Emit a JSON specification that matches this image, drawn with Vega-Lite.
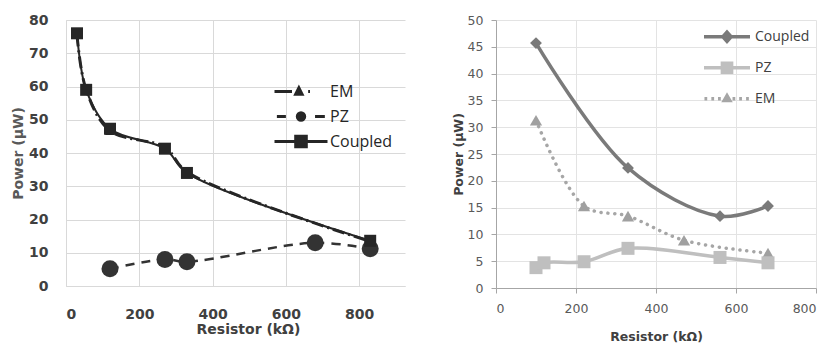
{
  "$schema": "https://vega.github.io/schema/vega-lite/v6.json",
  "padding": {"left": 11, "top": 13, "right": 0, "bottom": 0},
  "background": "white",
  "spacing": 47,
  "config": {"view": {"stroke": null}},
  "resolve": {"scale": {"fill": "independent", "stroke": "independent", "shape": "independent", "x": "independent", "y": "independent"}, "legend": {"fill": "independent", "stroke": "independent", "shape": "independent"}},
  "hconcat": [
    {
      "width": 339,
      "height": 266,
      "data": {"values": [
        {"series": "EM", "r": 30, "p": 75.6},
        {"series": "EM", "r": 55, "p": 59},
        {"series": "EM", "r": 120, "p": 46.7},
        {"series": "EM", "r": 270, "p": 41.7},
        {"series": "EM", "r": 330, "p": 34.3},
        {"series": "EM", "r": 830, "p": 13.4},
        {"series": "PZ", "r": 120, "p": 5.2},
        {"series": "PZ", "r": 270, "p": 8.0},
        {"series": "PZ", "r": 330, "p": 7.3},
        {"series": "PZ", "r": 680, "p": 13},
        {"series": "PZ", "r": 830, "p": 11.2},
        {"series": "Coupled", "r": 30, "p": 76},
        {"series": "Coupled", "r": 55, "p": 59},
        {"series": "Coupled", "r": 120, "p": 47.3},
        {"series": "Coupled", "r": 270, "p": 41.3},
        {"series": "Coupled", "r": 330, "p": 34},
        {"series": "Coupled", "r": 830, "p": 13.6}
      ]},
      "encoding": {
        "x": {"field": "r", "type": "quantitative", "scale": {"domain": [0, 925], "nice": false},
          "axis": {"values": [0, 200, 400, 600, 800], "grid": true, "gridColor": "#d9d9d9", "domainColor": "#d9d9d9", "ticks": false, "tickSize": 0,
            "labelFont": "DejaVu Sans", "labelFontWeight": "bold", "labelFontSize": 14, "labelColor": "#404040", "labelPadding": 21,
            "title": "Resistor (kΩ)", "titleFont": "DejaVu Sans", "titleFontWeight": "bold", "titleFontSize": 14, "titleColor": "#404040", "titlePadding": 1, "titleX": 182}},
        "y": {"field": "p", "type": "quantitative", "scale": {"domain": [0, 80], "nice": false},
          "axis": {"values": [0, 10, 20, 30, 40, 50, 60, 70, 80], "grid": true, "gridColor": "#d9d9d9", "domainColor": "#d9d9d9", "ticks": false, "tickSize": 0,
            "labelFont": "DejaVu Sans", "labelFontWeight": "bold", "labelFontSize": 14, "labelColor": "#404040", "labelPadding": 18,
            "title": "Power (μW)", "titleFont": "DejaVu Sans", "titleFontWeight": "bold", "titleFontSize": 14, "titleColor": "#595959", "titlePadding": 3}}
      },
      "layer": [
        {"transform": [{"filter": "datum.series === 'EM'"}],
         "mark": {"type": "line", "interpolate": "catmull-rom", "color": "#262626", "strokeWidth": 3, "strokeDash": [12, 4, 2, 4]}},
        {"transform": [{"filter": "datum.series === 'PZ'"}],
         "mark": {"type": "line", "interpolate": "catmull-rom", "color": "#333333", "strokeWidth": 2.5, "strokeDash": [9, 7]}},
        {"transform": [{"filter": "datum.series === 'Coupled'"}],
         "mark": {"type": "line", "interpolate": "catmull-rom", "color": "#262626", "strokeWidth": 2}},
        {"transform": [{"filter": "datum.series === 'EM'"}],
         "mark": {"type": "point", "filled": true, "opacity": 1, "shape": "triangle-up", "size": 100, "color": "#262626"}},
        {"transform": [{"filter": "datum.series === 'PZ'"}],
         "mark": {"type": "point", "filled": true, "opacity": 1, "shape": "circle", "size": 289, "color": "#333333"}},
        {"transform": [{"filter": "datum.series === 'Coupled'"}],
         "mark": {"type": "point", "filled": true, "opacity": 1, "shape": "square", "size": 144, "color": "#262626"}},
        {"transform": [{"filter": "false"}],
         "mark": {"type": "point", "filled": true, "opacity": 1, "size": 2809, "strokeWidth": 3},
         "encoding": {
           "fill": {"field": "series", "type": "nominal", "scale": {"domain": ["EM", "PZ", "Coupled"], "range": ["#262626", "#262626", "#262626"]},
             "legend": {"orient": "none", "legendX": 207, "legendY": 59, "direction": "vertical", "title": null,
               "symbolSize": 2809, "symbolStrokeWidth": 3, "clipHeight": 25, "rowPadding": 0, "padding": 0, "labelOffset": 1,
               "labelFont": "Open Sans", "labelFontSize": 16, "labelColor": "#262626"}},
           "stroke": {"field": "series", "type": "nominal", "scale": {"domain": ["EM", "PZ", "Coupled"], "range": ["#262626", "#262626", "#262626"]}},
           "shape": {"field": "series", "type": "nominal", "scale": {"domain": ["EM", "PZ", "Coupled"], "range": [
             "M-1,0H-0.34M-0.2,0.1L-0.08,-0.14L0.04,0.1ZM0.27,0H0.34",
             "M-0.91,0H-0.57M0.53,0H0.9M0.14,0C0.14,0.077,0.077,0.14,0,0.14C-0.077,0.14,-0.14,0.077,-0.14,0C-0.14,-0.077,-0.077,-0.14,0,-0.14C0.077,-0.14,0.14,-0.077,0.14,0Z",
             "M-1,0H1M-0.2,-0.2H0.2V0.2H-0.2Z"]}}
         }}
      ]
    },
    {
      "width": 320,
      "height": 268,
      "data": {"values": [
        {"series": "Coupled", "r": 100, "p": 45.7},
        {"series": "Coupled", "r": 330, "p": 22.4},
        {"series": "Coupled", "r": 560, "p": 13.4},
        {"series": "Coupled", "r": 680, "p": 15.3},
        {"series": "PZ", "r": 100, "p": 3.8},
        {"series": "PZ", "r": 120, "p": 4.7},
        {"series": "PZ", "r": 220, "p": 4.9},
        {"series": "PZ", "r": 330, "p": 7.4},
        {"series": "PZ", "r": 560, "p": 5.7},
        {"series": "PZ", "r": 680, "p": 4.7},
        {"series": "EM", "r": 100, "p": 31.3},
        {"series": "EM", "r": 220, "p": 15.3},
        {"series": "EM", "r": 330, "p": 13.4},
        {"series": "EM", "r": 470, "p": 8.9},
        {"series": "EM", "r": 680, "p": 6.5}
      ]},
      "encoding": {
        "x": {"field": "r", "type": "quantitative", "scale": {"domain": [0, 800], "nice": false},
          "axis": {"values": [0, 200, 400, 600, 800], "grid": true, "gridColor": "#e3e3e3", "domainColor": "#a6a6a6", "tickColor": "#a6a6a6", "tickSize": 5,
            "labelFont": "DejaVu Sans", "labelFontSize": 12.5, "labelColor": "#595959", "labelPadding": 9,
            "title": "Resistor (kΩ)", "titleFont": "DejaVu Sans", "titleFontWeight": "bold", "titleFontSize": 12.5, "titleColor": "#404040", "titlePadding": 16}},
        "y": {"field": "p", "type": "quantitative", "scale": {"domain": [0, 50], "nice": false},
          "axis": {"values": [0, 5, 10, 15, 20, 25, 30, 35, 40, 45, 50], "grid": true, "gridColor": "#e3e3e3", "domainColor": "#a6a6a6", "tickColor": "#a6a6a6", "tickSize": 5,
            "labelFont": "DejaVu Sans", "labelFontSize": 12.5, "labelColor": "#595959", "labelPadding": 8,
            "title": "Power (μW)", "titleFont": "DejaVu Sans", "titleFontWeight": "bold", "titleFontSize": 12.5, "titleColor": "#404040", "titlePadding": 2}}
      },
      "layer": [
        {"transform": [{"filter": "datum.series === 'EM'"}],
         "mark": {"type": "line", "interpolate": "catmull-rom", "color": "#a6a6a6", "strokeWidth": 3.5, "strokeDash": [0.1, 6.8], "strokeCap": "round"}},
        {"transform": [{"filter": "datum.series === 'PZ'"}],
         "mark": {"type": "line", "interpolate": "catmull-rom", "color": "#bfbfbf", "strokeWidth": 3.5}},
        {"transform": [{"filter": "datum.series === 'Coupled'"}],
         "mark": {"type": "line", "interpolate": "catmull-rom", "color": "#7a7a7a", "strokeWidth": 3.5}},
        {"transform": [{"filter": "datum.series === 'EM'"}],
         "mark": {"type": "point", "filled": true, "opacity": 1, "shape": "triangle-up", "size": 150, "color": "#a0a0a0"}},
        {"transform": [{"filter": "datum.series === 'PZ'"}],
         "mark": {"type": "point", "filled": true, "opacity": 1, "shape": "square", "size": 169, "color": "#bfbfbf"}},
        {"transform": [{"filter": "datum.series === 'Coupled'"}],
         "mark": {"type": "point", "filled": true, "opacity": 1, "shape": "diamond", "size": 140, "color": "#7a7a7a"}},
        {"transform": [{"filter": "false"}],
         "mark": {"type": "point", "filled": true, "opacity": 1, "size": 2116, "strokeWidth": 3.5},
         "encoding": {
           "fill": {"field": "series", "type": "nominal", "scale": {"domain": ["Coupled", "PZ", "EM"], "range": ["#7a7a7a", "#bfbfbf", "#a0a0a0"]},
             "legend": {"orient": "none", "legendX": 206, "legendY": 1.5, "direction": "vertical", "title": null,
               "symbolSize": 2116, "symbolStrokeWidth": 3.5, "clipHeight": 30.5, "rowPadding": 0, "padding": 0, "labelOffset": 3,
               "labelFont": "Open Sans", "labelFontSize": 14, "labelColor": "#404040"}},
           "stroke": {"field": "series", "type": "nominal", "scale": {"domain": ["Coupled", "PZ", "EM"], "range": ["#7a7a7a", "#bfbfbf", "#a6a6a6"]}},
           "shape": {"field": "series", "type": "nominal", "scale": {"domain": ["Coupled", "PZ", "EM"], "range": [
             "M-1,0H1M0,-0.2L0.18,0L0,0.2L-0.18,0Z",
             "M-1,0H1M-0.2,-0.2H0.2V0.2H-0.2Z",
             "M-0.98,0H-0.86M-0.68,0H-0.56M-0.39,0H-0.27M0.24,0H0.36M0.53,0H0.65M0.83,0H0.95M-0.12,0.08L0,-0.13L0.12,0.08Z"]}}
         }}
      ]
    }
  ]
}
